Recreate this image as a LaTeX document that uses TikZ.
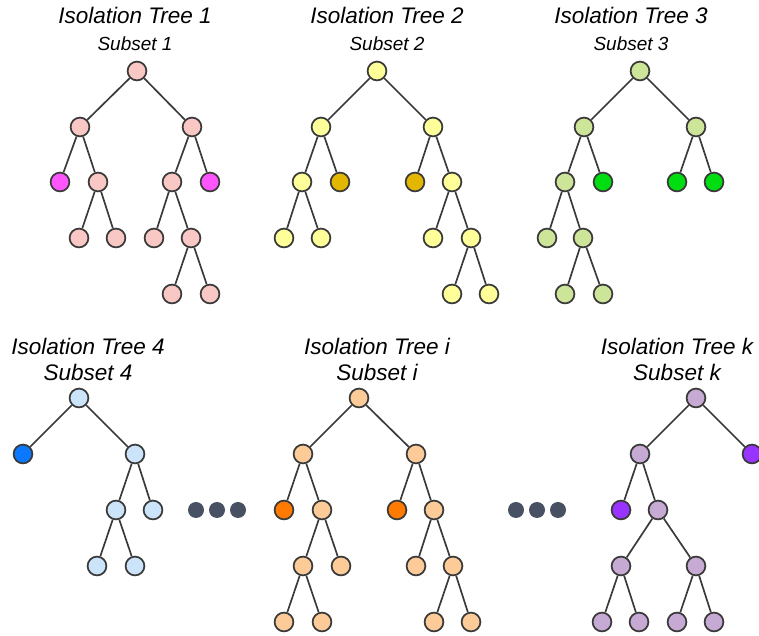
\documentclass[tikz,border=0pt]{standalone}
\usepackage{fontspec}
\setmainfont{Liberation Sans}
\usepackage{xcolor}
\usepackage{tikz}
\usetikzlibrary{arrows.meta, positioning}
\definecolor{itPink}{HTML}{FAC8C4}
\definecolor{itMagenta}{HTML}{FF55FF}
\definecolor{itYellow}{HTML}{FFFF99}
\definecolor{itGold}{HTML}{E3B600}
\definecolor{itLime}{HTML}{CDE598}
\definecolor{itGreen}{HTML}{00DD11}
\definecolor{itSky}{HTML}{CCE4FA}
\definecolor{itBlue}{HTML}{0A78FF}
\definecolor{itPeach}{HTML}{FDCB98}
\definecolor{itOrange}{HTML}{FF7A00}
\definecolor{itLilac}{HTML}{C7AAD3}
\definecolor{itPurple}{HTML}{9933FF}
\definecolor{itDots}{HTML}{485163}
\definecolor{itEdge}{HTML}{3A3A3A}

\begin{document}
\begin{tikzpicture}[
    x=0.025cm, y=-0.025cm,
    vx/.style={circle, draw=itEdge, line width=1.25pt, minimum size=0.47cm, inner sep=0pt},
    dot/.style={circle, fill=itDots, minimum size=0.4cm, inner sep=0pt},
    ttl/.style={font=\fontsize{16}{19}\selectfont\itshape},
    sub/.style={font=\fontsize{13.5}{16}\selectfont\itshape},
    subb/.style={font=\fontsize{16}{19}\selectfont\itshape},
    edge/.style={draw=itEdge, line width=1.2pt}
  ]
    \useasboundingbox (0,0) rectangle (759,636);

    % titles
    \node[ttl] (t1) at (135,15) {Isolation Tree 1};
    \node[sub] (s1) at (135,44) {Subset 1};
    \node[ttl] (t2) at (387,15) {Isolation Tree 2};
    \node[sub] (s2) at (387,44) {Subset 2};
    \node[ttl] (t3) at (631,15) {Isolation Tree 3};
    \node[sub] (s3) at (631,44) {Subset 3};
    \node[ttl] (t4) at (88,346) {Isolation Tree 4};
    \node[subb] (s4) at (88,372) {Subset 4};
    \node[ttl] (ti) at (377,346) {Isolation Tree i};
    \node[subb] (si) at (377,372) {Subset i};
    \node[ttl] (tk) at (677,346) {Isolation Tree k};
    \node[subb] (sk) at (677,372) {Subset k};

    % tree 1
    \node[vx, fill=itPink] (a0) at (137,71) {};
    \node[vx, fill=itPink] (a1) at (80,127) {};
    \node[vx, fill=itPink] (a2) at (192,127) {};
    \node[vx, fill=itMagenta] (a3) at (60,182) {};
    \node[vx, fill=itPink] (a4) at (98,182) {};
    \node[vx, fill=itPink] (a5) at (172,182) {};
    \node[vx, fill=itMagenta] (a6) at (210,182) {};
    \node[vx, fill=itPink] (a7) at (79,238) {};
    \node[vx, fill=itPink] (a8) at (116,238) {};
    \node[vx, fill=itPink] (a9) at (154,238) {};
    \node[vx, fill=itPink] (a10) at (191,238) {};
    \node[vx, fill=itPink] (a11) at (172,294) {};
    \node[vx, fill=itPink] (a12) at (210,294) {};
    \foreach \p/\c in {a0/a1, a0/a2, a1/a3, a1/a4, a2/a5, a2/a6,
                       a4/a7, a4/a8, a5/a9, a5/a10, a10/a11, a10/a12}
      \draw[edge] (\p) -- (\c);

    % tree 2
    \node[vx, fill=itYellow] (b0) at (377,71) {};
    \node[vx, fill=itYellow] (b1) at (321,127) {};
    \node[vx, fill=itYellow] (b2) at (433,127) {};
    \node[vx, fill=itYellow] (b3) at (302,182) {};
    \node[vx, fill=itGold] (b4) at (340,182) {};
    \node[vx, fill=itGold] (b5) at (415,182) {};
    \node[vx, fill=itYellow] (b6) at (452,182) {};
    \node[vx, fill=itYellow] (b7) at (284,238) {};
    \node[vx, fill=itYellow] (b8) at (321,238) {};
    \node[vx, fill=itYellow] (b9) at (433,238) {};
    \node[vx, fill=itYellow] (b10) at (471,238) {};
    \node[vx, fill=itYellow] (b11) at (452,294) {};
    \node[vx, fill=itYellow] (b12) at (489,294) {};
    \foreach \p/\c in {b0/b1, b0/b2, b1/b3, b1/b4, b2/b5, b2/b6,
                       b3/b7, b3/b8, b6/b9, b6/b10, b10/b11, b10/b12}
      \draw[edge] (\p) -- (\c);

    % tree 3
    \node[vx, fill=itLime] (c0) at (640,71) {};
    \node[vx, fill=itLime] (c1) at (584,127) {};
    \node[vx, fill=itLime] (c2) at (696,127) {};
    \node[vx, fill=itLime] (c3) at (565,182) {};
    \node[vx, fill=itGreen] (c4) at (603,182) {};
    \node[vx, fill=itGreen] (c5) at (677,182) {};
    \node[vx, fill=itGreen] (c6) at (714,182) {};
    \node[vx, fill=itLime] (c7) at (547,238) {};
    \node[vx, fill=itLime] (c8) at (583,238) {};
    \node[vx, fill=itLime] (c9) at (565,294) {};
    \node[vx, fill=itLime] (c10) at (603,294) {};
    \foreach \p/\c in {c0/c1, c0/c2, c1/c3, c1/c4, c2/c5, c2/c6,
                       c3/c7, c3/c8, c8/c9, c8/c10}
      \draw[edge] (\p) -- (\c);

    % tree 4
    \node[vx, fill=itSky] (d0) at (79,398) {};
    \node[vx, fill=itBlue] (d1) at (23,454) {};
    \node[vx, fill=itSky] (d2) at (135,454) {};
    \node[vx, fill=itSky] (d3) at (116,510) {};
    \node[vx, fill=itSky] (d4) at (153,510) {};
    \node[vx, fill=itSky] (d5) at (97,566) {};
    \node[vx, fill=itSky] (d6) at (135,566) {};
    \foreach \p/\c in {d0/d1, d0/d2, d2/d3, d2/d4, d3/d5, d3/d6}
      \draw[edge] (\p) -- (\c);

    % tree i
    \node[vx, fill=itPeach] (e0) at (359,398) {};
    \node[vx, fill=itPeach] (e1) at (303,454) {};
    \node[vx, fill=itPeach] (e2) at (416,454) {};
    \node[vx, fill=itOrange] (e3) at (284,510) {};
    \node[vx, fill=itPeach] (e4) at (322,510) {};
    \node[vx, fill=itOrange] (e5) at (397,510) {};
    \node[vx, fill=itPeach] (e6) at (434,510) {};
    \node[vx, fill=itPeach] (e7) at (303,566) {};
    \node[vx, fill=itPeach] (e8) at (341,566) {};
    \node[vx, fill=itPeach] (e9) at (416,566) {};
    \node[vx, fill=itPeach] (e10) at (453,566) {};
    \node[vx, fill=itPeach] (e11) at (284,622) {};
    \node[vx, fill=itPeach] (e12) at (322,622) {};
    \node[vx, fill=itPeach] (e13) at (434,622) {};
    \node[vx, fill=itPeach] (e14) at (471,622) {};
    \foreach \p/\c in {e0/e1, e0/e2, e1/e3, e1/e4, e2/e5, e2/e6, e4/e7, e4/e8,
                       e6/e9, e6/e10, e7/e11, e7/e12, e10/e13, e10/e14}
      \draw[edge] (\p) -- (\c);

    % tree k
    \node[vx, fill=itLilac] (f0) at (696,398) {};
    \node[vx, fill=itLilac] (f1) at (640,454) {};
    \node[vx, fill=itPurple] (f2) at (752,454) {};
    \node[vx, fill=itPurple] (f3) at (621,510) {};
    \node[vx, fill=itLilac] (f4) at (658,510) {};
    \node[vx, fill=itLilac] (f5) at (621,566) {};
    \node[vx, fill=itLilac] (f6) at (696,566) {};
    \node[vx, fill=itLilac] (f7) at (602,622) {};
    \node[vx, fill=itLilac] (f8) at (639,622) {};
    \node[vx, fill=itLilac] (f9) at (677,622) {};
    \node[vx, fill=itLilac] (f10) at (714,622) {};
    \foreach \p/\c in {f0/f1, f0/f2, f1/f3, f1/f4, f4/f5, f4/f6,
                       f5/f7, f5/f8, f6/f9, f6/f10}
      \draw[edge] (\p) -- (\c);

    % ellipses between trees
    \node[dot] (g1) at (196,510) {};
    \node[dot] (g2) at (217,510) {};
    \node[dot] (g3) at (238,510) {};
    \node[dot] (h1) at (516,510) {};
    \node[dot] (h2) at (537,510) {};
    \node[dot] (h3) at (558,510) {};
\end{tikzpicture}
\end{document}
